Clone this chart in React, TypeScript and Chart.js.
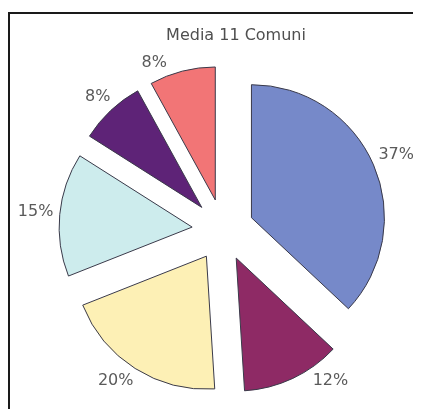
import { useEffect, useRef } from "react";
import { Chart, registerables } from "chart.js";

Chart.register(...registerables);

const titleText = "Media 11 Comuni";
const categories = ["Categoria 1", "Categoria 2", "Categoria 3", "Categoria 4", "Categoria 5", "Categoria 6"];
const shares = [37, 12, 20, 15, 8, 8];
const sliceColors = ["#7689c9", "#8e2a65", "#fdf0b5", "#cdeced", "#5e2377", "#f27576"];

const EXPLODE = 31;
const LABEL_GAP = 6;
const LABEL_TOP = 49;
const LABEL_BOTTOM = 379;
const FONT = "16px 'DejaVu Sans'";

const framePlugin = {
  id: "frame",
  beforeDraw(chart: any) {
    const { ctx, width, height } = chart;
    ctx.save();
    ctx.fillStyle = "#ffffff";
    ctx.fillRect(0, 0, width, height);
    ctx.fillStyle = "#1a1a1a";
    ctx.fillRect(0, 4, 2, height - 4);
    ctx.fillRect(0, 4, width, 2);
    ctx.fillStyle = "#4f4f4f";
    ctx.font = FONT;
    ctx.textAlign = "center";
    ctx.textBaseline = "middle";
    ctx.fillText(titleText, width / 2, 28);
    ctx.restore();
  },
};

const explodePlugin = {
  id: "explode",
  beforeDatasetsDraw(chart: any) {
    const meta = chart.getDatasetMeta(0);
    meta.data.forEach((arc: any) => {
      const mid = (arc.startAngle + arc.endAngle) / 2;
      arc.$ox = arc.x;
      arc.$oy = arc.y;
      arc.x = arc.x + Math.cos(mid) * EXPLODE;
      arc.y = arc.y + Math.sin(mid) * EXPLODE;
    });
  },
  afterDatasetsDraw(chart: any) {
    const meta = chart.getDatasetMeta(0);
    const { ctx } = chart;
    meta.data.forEach((arc: any) => {
      arc.x = arc.$ox;
      arc.y = arc.$oy;
    });
    ctx.save();
    ctx.font = FONT;
    ctx.fillStyle = "#5a5a5a";
    ctx.textAlign = "center";
    ctx.textBaseline = "middle";
    meta.data.forEach((arc: any, i: number) => {
      const mid = (arc.startAngle + arc.endAngle) / 2;
      const txt = shares[i] + "%";
      const w = ctx.measureText(txt).width;
      const h = 12;
      const place = (a: number) => {
        const dx = Math.cos(a);
        const dy = Math.sin(a);
        const ext = Math.abs(dx) * w / 2 + Math.abs(dy) * h / 2;
        const d = arc.outerRadius + EXPLODE + LABEL_GAP + ext;
        return { x: arc.x + dx * d, y: arc.y + dy * d, dx, dy };
      };
      let p = place(mid);
      const step = (p.dx * p.dy > 0 ? -1 : 1) * (Math.PI / 720);
      let a = mid;
      for (let k = 0; k < 240; k++) {
        if (p.y - h / 2 >= LABEL_TOP && p.y + h / 2 <= LABEL_BOTTOM) break;
        a += step;
        p = place(a);
      }
      ctx.fillText(txt, p.x, p.y);
    });
    ctx.restore();
  },
};

export default function App() {
  const ref = useRef<HTMLCanvasElement>(null);
  useEffect(() => {
    if (!ref.current) return;
    const chart = new Chart(ref.current, {
      type: "pie",
      data: {
        labels: categories,
        datasets: [
          {
            data: shares,
            backgroundColor: sliceColors,
            borderColor: "#3a3a4a",
            borderWidth: 1,
            radius: 133,
          } as any,
        ],
      },
      options: {
        responsive: false,
        animation: false,
        events: [],
        layout: { padding: { left: 20, right: 46, top: 40, bottom: 16 } },
        plugins: {
          legend: { display: false },
          title: { display: false },
          tooltip: { enabled: false },
        },
      },
      plugins: [framePlugin, explodePlugin],
    });
    return () => chart.destroy();
  }, []);
  return (
    <div style={{ width: 413, height: 401, overflow: "hidden" }}>
      <canvas ref={ref} width={456} height={420} style={{ display: "block" }} />
    </div>
  );
}
